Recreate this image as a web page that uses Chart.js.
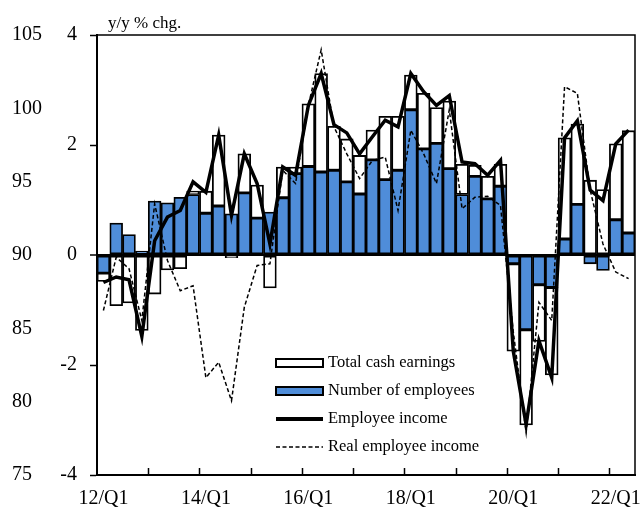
<!DOCTYPE html>
<html>
<head>
<meta charset="utf-8">
<script src="https://cdn.jsdelivr.net/npm/chart.js@4.4.1/dist/chart.umd.min.js"></script>
<style>
  html, body { margin: 0; padding: 0; background: #fff; }
  #wrap { width: 642px; height: 509px; }
</style>
</head>
<body>
<div id="wrap"><canvas id="graph1" width="642" height="509"></canvas></div>
<script>
const quarterLabels = [
    "12/Q1", "12/Q2", "12/Q3", "12/Q4", "13/Q1", "13/Q2", "13/Q3", "13/Q4",
    "14/Q1", "14/Q2", "14/Q3", "14/Q4", "15/Q1", "15/Q2", "15/Q3", "15/Q4",
    "16/Q1", "16/Q2", "16/Q3", "16/Q4", "17/Q1", "17/Q2", "17/Q3", "17/Q4",
    "18/Q1", "18/Q2", "18/Q3", "18/Q4", "19/Q1", "19/Q2", "19/Q3", "19/Q4",
    "20/Q1", "20/Q2", "20/Q3", "20/Q4", "21/Q1", "21/Q2", "21/Q3", "21/Q4",
    "22/Q1", "22/Q2",
]

// contributions, % points (stacked bars)
const numberOfEmployees = [
    -0.33, 0.58, 0.37, 0.07, 0.98, 0.95, 1.05, 1.10, 0.76, 0.89, 0.75, 1.13,
    0.67, 0.78, 1.04, 1.48, 1.61, 1.51, 1.54, 1.33, 1.11, 1.73, 1.37, 1.54,
    2.64, 1.93, 2.03, 1.57, 1.10, 1.43, 1.02, 1.25, -0.16, -1.36, -0.54, -0.59,
    0.29, 0.92, -0.16, -0.28, 0.64, 0.40,
]
const totalCashEarnings = [
    -0.15, -0.92, -0.87, -1.37, -0.71, -0.27, -0.25, 0.06, 0.40, 1.29, -0.05, 0.71,
    0.60, -0.60, 0.56, 0.12, 1.14, 1.79, 0.80, 0.78, 0.70, 0.54, 1.15, 0.98,
    0.63, 1.01, 0.65, 1.23, 0.55, 0.20, 0.41, 0.40, -1.59, -1.73, -1.03, -1.59,
    1.84, 1.46, 1.36, 1.19, 1.38, 1.86,
]
const employeeIncome = [
    -0.50, -0.40, -0.45, -1.48, 0.26, 0.69, 0.81, 1.33, 1.14, 2.18, 0.72, 1.84,
    1.30, 0.20, 1.60, 1.45, 2.72, 3.30, 2.37, 2.22, 1.84, 2.15, 2.45, 2.33,
    3.30, 2.97, 2.72, 2.90, 1.69, 1.66, 1.45, 1.72, -1.75, -3.08, -1.56, -2.23,
    2.13, 2.44, 1.18, 0.99, 2.02, 2.27,
]
const realEmployeeIncome = [
    -1.01, -0.04, -0.25, -1.19, 0.93, -0.10, -0.65, -0.56, -2.23, -1.95, -2.65, -0.95,
    -0.19, -0.16, 1.54, 1.30, 2.72, 3.73, 2.33, 1.84, 1.39, 1.72, 1.78, 0.81,
    2.27, 1.84, 1.30, 2.64, 0.84, 1.05, 1.07, 0.90, -1.40, -3.23, -0.86, -1.19,
    3.06, 2.94, 1.18, 0.20, -0.31, -0.43,
]

const serif = '"Liberation Serif", "Times New Roman", serif'
const blue = "#4f8dd9"

const legendItems = [
    { label: "Total cash earnings", kind: "box", fill: "#ffffff" },
    { label: "Number of employees", kind: "box", fill: blue },
    { label: "Employee income", kind: "line", width: 4, dash: [] },
    { label: "Real employee income", kind: "line", width: 1.5, dash: [4, 2.5] },
]

const decorations = {
    id: "decorations",
    afterDraw(chart) {
        const { ctx, chartArea: a, scales } = chart
        const x = scales.x
        ctx.save()

        // frame top and right
        ctx.strokeStyle = "#000"
        ctx.lineWidth = 1.5
        ctx.beginPath()
        ctx.moveTo(a.left, a.top)
        ctx.lineTo(a.right, a.top)
        ctx.lineTo(a.right, a.bottom)
        ctx.stroke()

        // inward year ticks
        const half = (x.getPixelForValue(1) - x.getPixelForValue(0)) / 2
        ctx.beginPath()
        for (let i = 4; i < quarterLabels.length; i += 4) {
            const px = Math.round(x.getPixelForValue(i) - half) + 0.5
            ctx.moveTo(px, a.bottom)
            ctx.lineTo(px, a.bottom - 7)
        }
        ctx.stroke()

        // unit title
        ctx.fillStyle = "#000"
        ctx.font = "17px " + serif
        ctx.textBaseline = "alphabetic"
        ctx.textAlign = "left"
        ctx.fillText("y/y % chg.", a.left + 11, 28)

        // legend
        const lx = a.left + 179
        const symW = 47
        ctx.font = "16.5px " + serif
        ctx.textBaseline = "middle"
        legendItems.forEach((item, i) => {
            const cy = 363 + i * 28
            if (item.kind === "box") {
                ctx.fillStyle = item.fill
                ctx.fillRect(lx, cy - 4, symW, 8)
                ctx.lineWidth = 2
                ctx.strokeStyle = "#000"
                ctx.strokeRect(lx, cy - 4, symW, 8)
            } else {
                ctx.lineWidth = item.width
                ctx.strokeStyle = "#000"
                ctx.setLineDash(item.dash)
                ctx.beginPath()
                ctx.moveTo(lx, cy)
                ctx.lineTo(lx + symW, cy)
                ctx.stroke()
                ctx.setLineDash([])
            }
            ctx.fillStyle = "#000"
            ctx.fillText(item.label, lx + symW + 5, cy)
        })
        ctx.restore()
    },
}

const ctx1 = document.getElementById("graph1")

const config1 = {
    type: "bar",
    data: {
        labels: quarterLabels,
        datasets: [
            {
                type: "line",
                label: "Employee income",
                data: employeeIncome,
                borderColor: "#000",
                borderWidth: 3.5,
                pointRadius: 0,
                tension: 0,
                stack: "line1",
                order: 0,
            },
            {
                type: "line",
                label: "Real employee income",
                data: realEmployeeIncome,
                borderColor: "#000",
                borderWidth: 1.5,
                borderDash: [4, 2.5],
                pointRadius: 0,
                tension: 0,
                stack: "line2",
                order: 1,
            },
            {
                label: "Number of employees",
                data: numberOfEmployees,
                backgroundColor: blue,
                borderColor: "#000",
                borderWidth: 1.8,
                borderSkipped: false,
                barPercentage: 1,
                categoryPercentage: 1,
                stack: "bars",
                order: 2,
            },
            {
                label: "Total cash earnings",
                data: totalCashEarnings,
                backgroundColor: "#ffffff",
                borderColor: "#000",
                borderWidth: 1.8,
                borderSkipped: false,
                barPercentage: 1,
                categoryPercentage: 1,
                stack: "bars",
                order: 3,
            },
        ],
    },
    options: {
        responsive: false,
        animation: false,
        layout: {
            padding: { top: 35, left: 12, right: 7, bottom: 0 },
        },
        plugins: {
            legend: { display: false },
            tooltip: { enabled: false },
            title: { display: false },
        },
        scales: {
            x: {
                stacked: true,
                offset: true,
                border: { display: true, color: "#000", width: 2 },
                grid: { display: true, drawOnChartArea: false, drawTicks: false },
                ticks: {
                    autoSkip: false,
                    maxRotation: 0,
                    minRotation: 0,
                    padding: 12,
                    color: "#000",
                    font: { family: serif, size: 20 },
                    callback: function (value, index) {
                        return index % 8 === 0 ? this.getLabelForValue(value) : ""
                    },
                },
                afterFit: (scale) => {
                    scale.height = 34
                },
            },
            y: {
                stacked: true,
                position: "left",
                weight: 0,
                min: -4,
                max: 4,
                border: { display: true, color: "#000", width: 2 },
                grid: {
                    drawOnChartArea: true,
                    drawTicks: true,
                    tickLength: 7,
                    tickColor: "#000",
                    tickWidth: 1.5,
                    color: (c) => (c.tick && c.tick.value === 0 ? "#000" : "rgba(0,0,0,0)"),
                    lineWidth: (c) => (c.tick && c.tick.value === 0 ? 2 : 1),
                },
                ticks: {
                    stepSize: 2,
                    padding: 13,
                    color: "#000",
                    font: { family: serif, size: 20 },
                },
                afterFit: (scale) => {
                    scale.width = 42
                },
            },
            yIndex: {
                position: "left",
                weight: 1,
                min: 75,
                max: 105,
                border: { display: false },
                grid: { display: false, drawTicks: false },
                ticks: {
                    stepSize: 5,
                    crossAlign: "far",
                    color: "#000",
                    font: { family: serif, size: 20 },
                },
                afterFit: (scale) => {
                    scale.width = 43
                },
            },
        },
    },
    plugins: [decorations],
}

const chart1 = new Chart(ctx1, config1)
</script>
</body>
</html>
